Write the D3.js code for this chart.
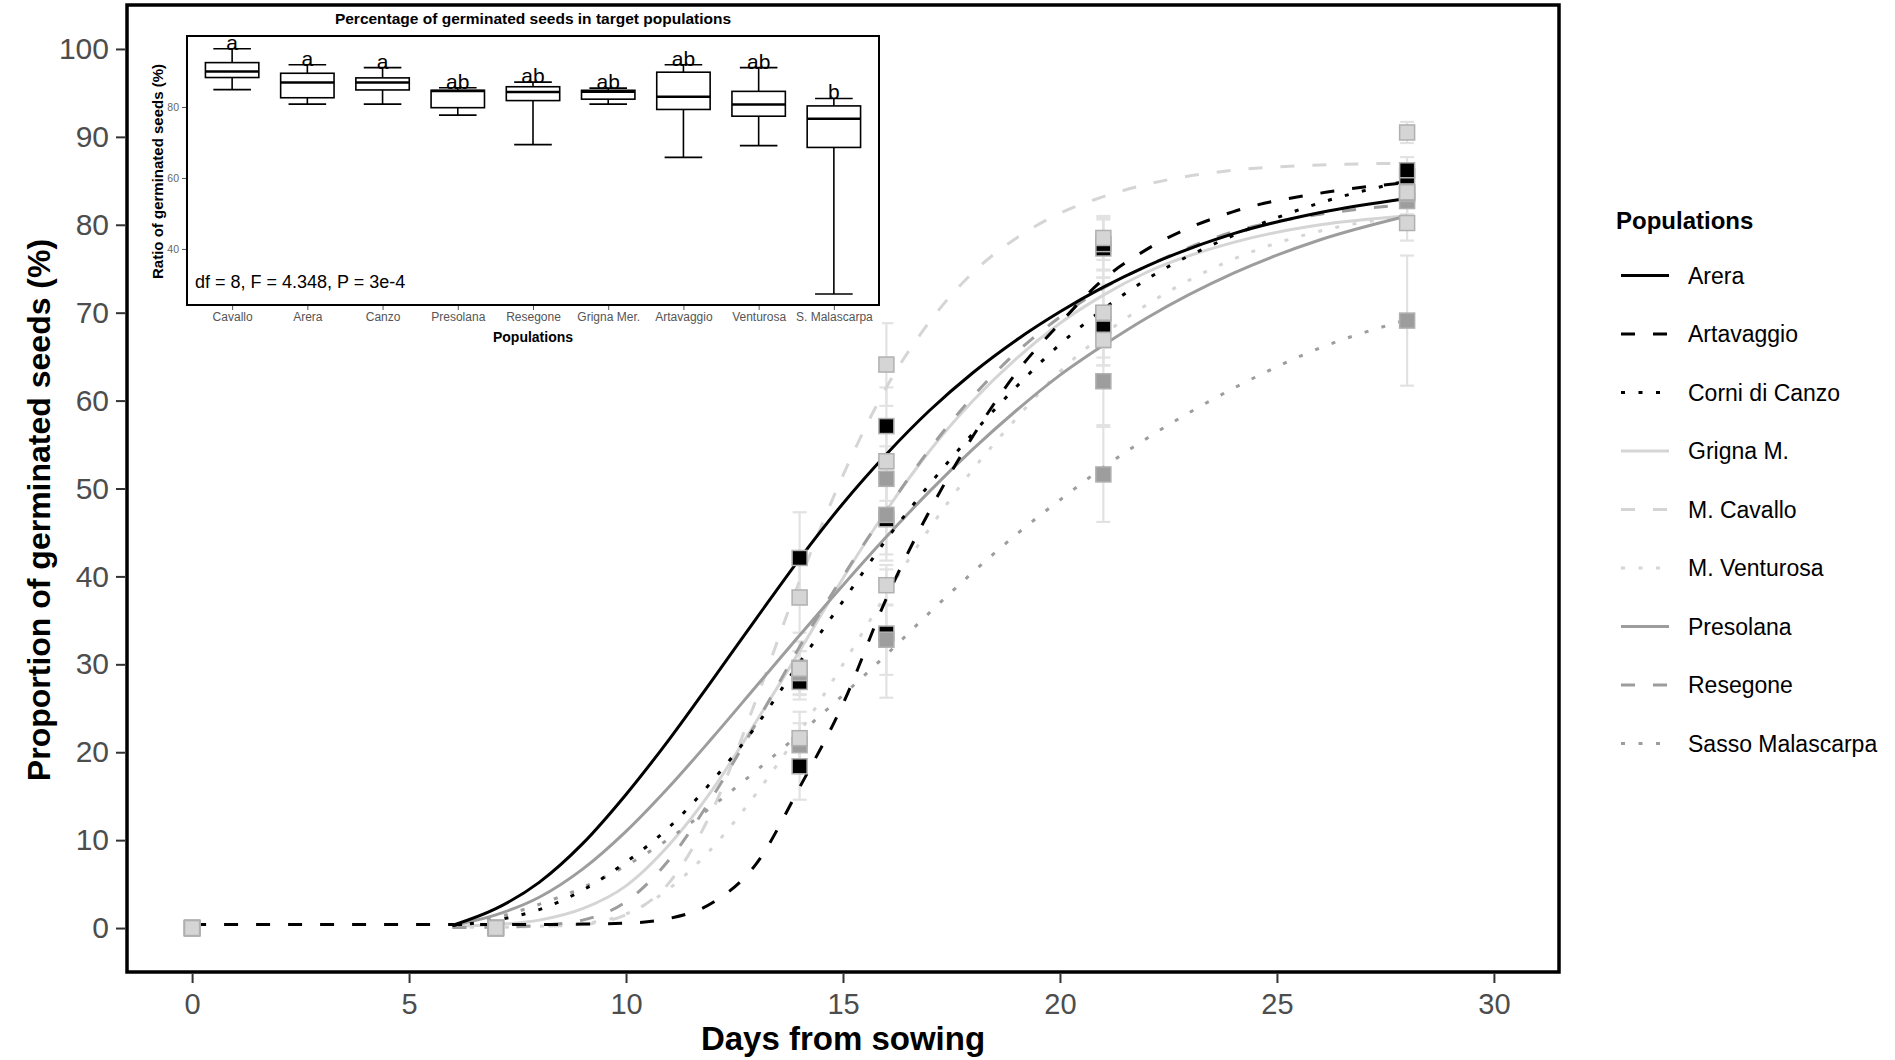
<!DOCTYPE html>
<html>
<head>
<meta charset="utf-8">
<script src="https://cdn.jsdelivr.net/npm/d3@7"></script>
<style>
  html, body { margin: 0; padding: 0; background: #ffffff; }
  svg { display: block; font-family: "Liberation Sans", Arial, sans-serif; }
</style>
</head>
<body>
<svg id="chart" width="1895" height="1060"></svg>
<script>
// ---------------- DATA ----------------
const populations = ["Arera", "Artavaggio", "Corni di Canzo", "Grigna M.", "M. Cavallo",
                     "M. Venturosa", "Presolana", "Resegone", "Sasso Malascarpa"];

// days at which the fitted germination curves are read
const curveDays = [0, 6, 7, 8, 9, 10, 11, 12, 13, 14, 15, 16, 17, 18, 19, 20, 21, 22, 24, 26, 28];

const fitArera       = [null, 0.3, 2.2, 5.2, 9.6, 15.2, 21.5, 28.3, 35.2, 42, 48.3, 53.9, 58.9, 63.2, 66.9, 70.1, 72.9, 75.3, 79, 81.4, 83];
const fitArtavaggio  = [0.4, 0.4, 0.4, 0.4, 0.45, 0.55, 1.1, 2.9, 7.3, 16, 25.5, 37.5, 47.5, 56, 63.2, 68.8, 73.8, 77.2, 81.5, 83.6, 84.8];
const fitCanzo       = [null, 0.3, 0.9, 2.1, 4.3, 7.5, 11.5, 16.8, 23.0, 30.2, 37.2, 44.2, 50.5, 56.3, 61.6, 66.4, 70.4, 73.8, 78.8, 82.5, 85];
const fitGrigna      = [null, 0.2, 0.4, 0.9, 2.2, 4.8, 9.5, 15.8, 23.5, 31.5, 39.8, 47.5, 54.3, 60, 64.8, 68.8, 72, 74.6, 78, 80, 81];
const fitCavallo     = [null, 0.05, 0.1, 0.2, 0.4, 1.5, 5.2, 13.5, 26, 39.5, 51.5, 61.5, 69, 74.6, 78.5, 81.3, 83.2, 84.6, 86.2, 86.8, 87];
const fitVenturosa   = [null, 0.1, 0.1, 0.2, 0.5, 1.6, 4.5, 9.2, 15.3, 22.3, 30, 38, 45.5, 52.2, 58, 63.3, 67.5, 70.9, 76.1, 79.3, 81];
const fitPresolana   = [null, 0.3, 1.5, 3.5, 6.7, 11.0, 16.1, 21.7, 27.5, 33.3, 39.0, 44.5, 49.7, 54.5, 58.9, 62.9, 66.3, 69.4, 74.5, 78.3, 81];
const fitResegone    = [null, 0.05, 0.1, 0.3, 0.9, 3, 7.8, 15, 23.3, 32, 40, 47.5, 54.5, 60.5, 65.5, 69.5, 72.8, 75.3, 79.2, 81.2, 82.3];
const fitSasso       = [null, 0.3, 1.2, 2.7, 4.6, 7.1, 10.2, 13.9, 17.9, 22.1, 26.5, 31.1, 35.9, 40.5, 44.8, 48.7, 52.4, 55.7, 61.4, 66.0, 69.2];

// observed means (%) and their errors
const obsDays = [0, 7, 14, 16, 21, 28];
const obsArera      = [0, 0, 42.1, 57.1, 77.3, 83.7];
const obsArtavaggio = [0, 0, 18.4, 33.5, 77.8, 85.5];
const obsCanzo      = [0, 0, 28.0, 46.5, 68.6, 86.2];
const obsGrigna     = [0, 0, 29.5, 53.1, 70.0, 83.7];
const obsCavallo    = [0, 0, 37.6, 64.1, 78.5, 90.5];
const obsVenturosa  = [0, 0, 21.6, 39.0, 66.9, 80.2];
const obsPresolana  = [0, 0, 29.6, 47.0, 62.2, 82.7];
const obsResegone   = [0, 0, 29.0, 51.1, 69.9, 83.5];
const obsSasso      = [0, 0, 20.8, 32.8, 51.6, 69.1];

const errArera      = [0, 0, 5.2, 4.4, 3.3, 1.5];
const errArtavaggio = [0, 0, 3.8, 7.3, 3.0, 1.0];
const errCanzo      = [0, 0, 2.0, 4.0, 4.6, 1.5];
const errGrigna     = [0, 0, 2.0, 4.5, 4.0, 1.5];
const errCavallo    = [0, 0, 4.0, 4.7, 2.5, 1.2];
const errVenturosa  = [0, 0, 3.0, 2.3, 2.9, 2.0];
const errPresolana  = [0, 0, 3.0, 5.2, 5.0, 1.5];
const errResegone   = [0, 0, 2.5, 3.7, 5.0, 1.5];
const errSasso      = [0, 0, 2.5, 4.0, 5.4, 7.4];

const xTicks = [0, 5, 10, 15, 20, 25, 30];
const yTicks = [0, 10, 20, 30, 40, 50, 60, 70, 80, 90, 100];

// inset boxplot data
const insetPops = ["Cavallo", "Arera", "Canzo", "Presolana", "Resegone", "Grigna Mer.", "Artavaggio", "Venturosa", "S. Malascarpa"];
const boxMin = [84.9, 80.8, 80.8, 77.7, 69.4, 80.8, 65.8, 69.1, 27.3];
const boxQ1  = [88.3, 82.6, 84.8, 79.8, 81.8, 82.2, 79.3, 77.4, 68.6];
const boxMed = [90.0, 86.9, 86.9, 84.5, 84.2, 84.3, 82.9, 80.7, 76.7];
const boxQ3  = [92.5, 89.5, 88.2, 84.7, 85.7, 84.7, 89.8, 84.4, 80.3];
const boxMax = [96.4, 91.9, 91.1, 85.4, 87.0, 85.3, 91.9, 91.1, 82.4];
const boxLetters = ["a", "a", "a", "ab", "ab", "ab", "ab", "ab", "b"];
const insetYTicks = [40, 60, 80];
const insetTitle = "Percentage of germinated seeds in target populations";
const insetStat = "df = 8, F = 4.348, P = 3e-4";

// ---------------- ASSEMBLY ----------------
const fits = [fitArera, fitArtavaggio, fitCanzo, fitGrigna, fitCavallo, fitVenturosa, fitPresolana, fitResegone, fitSasso];
const obs  = [obsArera, obsArtavaggio, obsCanzo, obsGrigna, obsCavallo, obsVenturosa, obsPresolana, obsResegone, obsSasso];
const errs = [errArera, errArtavaggio, errCanzo, errGrigna, errCavallo, errVenturosa, errPresolana, errResegone, errSasso];

const series = populations.map((p, i) => ({
  name: p,
  fit: curveDays.map((d, j) => ({ d, v: fits[i][j] })),
  pts: obsDays.map((d, j) => ({ d, v: obs[i][j], e: errs[i][j] }))
}));

// styles
const BLACK = "#000000", MID = "#9d9d9d", LIGHT = "#d5d5d5";
const color = d3.scaleOrdinal(populations, [BLACK, BLACK, BLACK, LIGHT, LIGHT, LIGHT, MID, MID, MID]);
const dash = d3.scaleOrdinal(populations, ["none", "14,18", "4,13.5", "none", "14,18", "4,13.5", "none", "14,18", "4,13.5"]);
const drawRank = d3.scaleOrdinal(populations, [0, 0, 0, 2, 2, 2, 1, 1, 1]);

const svg = d3.select("#chart");
const panel = { left: 127, right: 1559, top: 5, bottom: 972 };

const x = d3.scaleLinear().domain([-1.5, 31.5]).range([panel.left, panel.right]);
const y = d3.scaleLinear().domain([-5, 105]).range([panel.bottom, panel.top]);

svg.append("rect").attr("x", 0).attr("y", 0).attr("width", 1895).attr("height", 1060).attr("fill", "#fff");

const plot = svg.append("g");

// error bars
const ordered = series.slice().sort((a, b) => drawRank(a.name) - drawRank(b.name));
const ebG = plot.append("g");
series.forEach(s => {
  s.pts.filter(p => p.e > 0).forEach(p => {
    const g = ebG.append("g").attr("stroke", "#e2e2e2").attr("stroke-width", 2.2);
    g.append("line").attr("x1", x(p.d)).attr("x2", x(p.d)).attr("y1", y(p.v - p.e)).attr("y2", y(p.v + p.e));
    g.append("line").attr("x1", x(p.d) - 7).attr("x2", x(p.d) + 7).attr("y1", y(p.v - p.e)).attr("y2", y(p.v - p.e));
    g.append("line").attr("x1", x(p.d) - 7).attr("x2", x(p.d) + 7).attr("y1", y(p.v + p.e)).attr("y2", y(p.v + p.e));
  });
});

// fitted curves
const line = d3.line()
  .defined(p => p.v !== null)
  .x(p => x(p.d)).y(p => y(p.v))
  .curve(d3.curveMonotoneX);

const curveOrder = series.slice().sort((a, b) => {
  const r = { [LIGHT]: 0, [MID]: 1, [BLACK]: 2 };
  return r[color(a.name)] - r[color(b.name)];
});
plot.append("g").selectAll("path").data(curveOrder).join("path")
  .attr("d", s => line(s.fit))
  .attr("fill", "none")
  .attr("stroke", s => color(s.name))
  .attr("stroke-width", 3)
  .attr("stroke-dasharray", s => dash(s.name))
  .attr("stroke-linecap", "butt");

// points
const ptG = plot.append("g");
ordered.forEach(s => {
  ptG.selectAll(null).data(s.pts).join("rect")
    .attr("x", p => x(p.d) - 7.5).attr("y", p => y(p.v) - 7.5)
    .attr("width", 15).attr("height", 15)
    .attr("fill", color(s.name))
    .attr("stroke", "#b0b0b0").attr("stroke-width", 1.5);
});

// panel border
svg.append("rect")
  .attr("x", panel.left).attr("y", panel.top)
  .attr("width", panel.right - panel.left).attr("height", panel.bottom - panel.top)
  .attr("fill", "none").attr("stroke", "#000").attr("stroke-width", 3.5);

// axes
const xAxis = d3.axisBottom(x).tickValues(xTicks).tickSize(9).tickPadding(10);
const gx = svg.append("g").attr("transform", `translate(0,${panel.bottom + 2})`).call(xAxis);
gx.select(".domain").remove();
gx.selectAll(".tick line").attr("stroke", "#333").attr("stroke-width", 2);
gx.selectAll(".tick text").attr("fill", "#4d4d4d").style("font-size", "29px")
  .style("font-family", "'Liberation Sans', Arial, sans-serif");

const yAxis = d3.axisLeft(y).tickValues(yTicks).tickSize(9).tickPadding(7);
const gy = svg.append("g").attr("transform", `translate(${panel.left - 2},0)`).call(yAxis);
gy.select(".domain").remove();
gy.selectAll(".tick line").attr("stroke", "#333").attr("stroke-width", 2);
gy.selectAll(".tick text").attr("fill", "#4d4d4d").style("font-size", "30px")
  .style("font-family", "'Liberation Sans', Arial, sans-serif");

svg.append("text")
  .attr("x", (panel.left + panel.right) / 2).attr("y", 1050)
  .attr("text-anchor", "middle").attr("font-weight", "bold").attr("font-size", 33)
  .attr("fill", "#000").text("Days from sowing");

svg.append("text")
  .attr("transform", `translate(50,${510}) rotate(-90)`)
  .attr("text-anchor", "middle").attr("font-weight", "bold").attr("font-size", 32)
  .attr("fill", "#000").text("Proportion of germinated seeds (%)");

// legend
const leg = svg.append("g");
leg.append("text").attr("x", 1616).attr("y", 229).attr("font-weight", "bold").attr("font-size", 24)
  .attr("fill", "#000").text("Populations");
populations.forEach((p, i) => {
  const yy = 275.5 + i * 58.5;
  leg.append("line").attr("x1", 1621).attr("x2", 1669).attr("y1", yy).attr("y2", yy)
    .attr("stroke", color(p)).attr("stroke-width", 3.2).attr("stroke-dasharray", dash(p));
  leg.append("text").attr("x", 1688).attr("y", yy + 8).attr("font-size", 23).attr("fill", "#000").text(p);
});

// ---------------- INSET ----------------
const inset = svg.append("g");
inset.append("rect").attr("x", 140).attr("y", 9).attr("width", 742).attr("height", 338).attr("fill", "#fff");

const ib = { left: 187, right: 879, top: 36, bottom: 305 };
const ix = d3.scalePoint().domain(insetPops).range([ib.left, ib.right]).padding(0.6);
const iy = d3.scaleLinear().domain([24.2, 100]).range([ib.bottom, ib.top]);
const step = ix.step();

inset.append("text").attr("x", (ib.left + ib.right) / 2).attr("y", 24)
  .attr("text-anchor", "middle").attr("font-weight", "bold").attr("font-size", 15.5)
  .attr("fill", "#000").text(insetTitle);

const boxes = insetPops.map((p, i) => ({ p, min: boxMin[i], q1: boxQ1[i], med: boxMed[i], q3: boxQ3[i], max: boxMax[i], lab: boxLetters[i] }));
const bg = inset.append("g").attr("stroke", "#000").attr("fill", "none");
boxes.forEach(b => {
  const cx = ix(b.p);
  const bw = step * 0.71, cw = step * 0.5;
  bg.append("line").attr("x1", cx).attr("x2", cx).attr("y1", iy(b.max)).attr("y2", iy(b.q3)).attr("stroke-width", 1.6);
  bg.append("line").attr("x1", cx).attr("x2", cx).attr("y1", iy(b.q1)).attr("y2", iy(b.min)).attr("stroke-width", 1.6);
  bg.append("line").attr("x1", cx - cw / 2).attr("x2", cx + cw / 2).attr("y1", iy(b.max)).attr("y2", iy(b.max)).attr("stroke-width", 1.6);
  bg.append("line").attr("x1", cx - cw / 2).attr("x2", cx + cw / 2).attr("y1", iy(b.min)).attr("y2", iy(b.min)).attr("stroke-width", 1.6);
  bg.append("rect").attr("x", cx - bw / 2).attr("y", iy(b.q3)).attr("width", bw).attr("height", iy(b.q1) - iy(b.q3))
    .attr("fill", "#fff").attr("stroke-width", 1.6);
  bg.append("line").attr("x1", cx - bw / 2).attr("x2", cx + bw / 2).attr("y1", iy(b.med)).attr("y2", iy(b.med)).attr("stroke-width", 2.6);
  inset.append("text").attr("x", cx).attr("y", iy(b.max) + 1).attr("text-anchor", "middle")
    .attr("font-size", 21).attr("fill", "#000").text(b.lab);
});

inset.append("rect").attr("x", ib.left).attr("y", ib.top).attr("width", ib.right - ib.left).attr("height", ib.bottom - ib.top)
  .attr("fill", "none").attr("stroke", "#000").attr("stroke-width", 2);

const iyAxis = d3.axisLeft(iy).tickValues(insetYTicks).tickSize(4).tickPadding(3);
const giy = inset.append("g").attr("transform", `translate(${ib.left - 1},0)`).call(iyAxis);
giy.select(".domain").remove();
giy.selectAll(".tick line").attr("stroke", "#555");
giy.selectAll(".tick text").attr("fill", "#666").style("font-size", "10.5px").style("font-family", "'Liberation Sans', Arial, sans-serif");

const ixAxis = d3.axisBottom(ix).tickSize(4).tickPadding(2);
const gix = inset.append("g").attr("transform", `translate(0,${ib.bottom + 1})`).call(ixAxis);
gix.select(".domain").remove();
gix.selectAll(".tick line").attr("stroke", "#555");
gix.selectAll(".tick text").attr("fill", "#555").style("font-size", "12px").style("font-family", "'Liberation Sans', Arial, sans-serif");

inset.append("text").attr("x", (ib.left + ib.right) / 2).attr("y", 342)
  .attr("text-anchor", "middle").attr("font-weight", "bold").attr("font-size", 14)
  .attr("fill", "#000").text("Populations");

inset.append("text").attr("transform", `translate(163,${(ib.top + ib.bottom) / 2 + 1}) rotate(-90)`)
  .attr("text-anchor", "middle").attr("font-weight", "bold").attr("font-size", 15)
  .attr("fill", "#000").text("Ratio of germinated seeds (%)");

inset.append("text").attr("x", 195).attr("y", 288).attr("font-size", 18).attr("fill", "#000").text(insetStat);
</script>
</body>
</html>
